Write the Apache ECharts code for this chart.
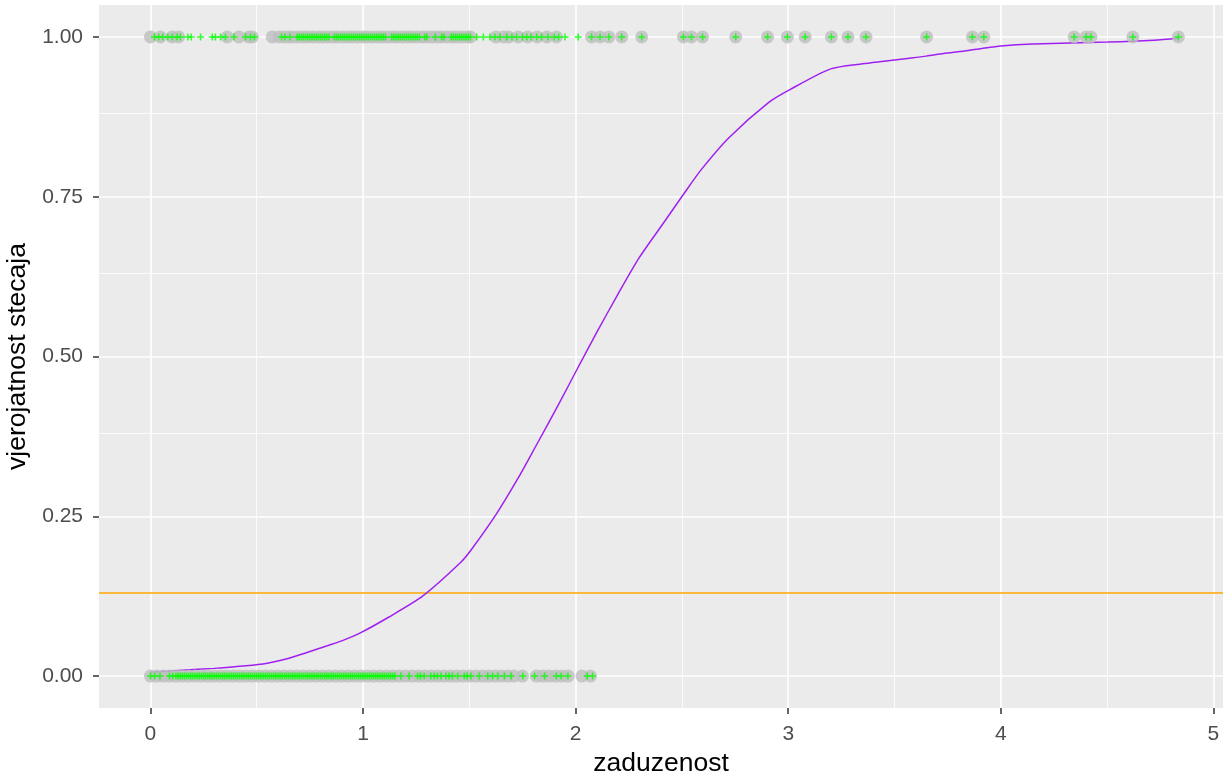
<!DOCTYPE html>
<html><head><meta charset="utf-8">
<script src="https://cdn.jsdelivr.net/npm/echarts@6/dist/echarts.min.js"></script>
<style>html,body{margin:0;padding:0;background:#fff}#c{width:1223px;height:773px}</style>
</head><body><div id="c"></div>
<script>
// ---- tick values ----
const xTicks = [0, 1, 2, 3, 4, 5];
const xMinor = [0.5, 1.5, 2.5, 3.5, 4.5];
const yTicks = [0, 0.25, 0.5, 0.75, 1];
const yMinor = [0.125, 0.375, 0.625, 0.875];

// ---- observed points (zaduzenost) at stecaj = 1 ----
const greyTopX = [0, 0.047, 0.102, 0.133, 0.361, 0.416, 0.463, 0.479, 0.573,
  0.605, 0.63, 0.652, 0.67, 0.695, 0.72, 0.74, 0.765, 0.79, 0.81, 0.835, 0.86, 0.88, 0.905, 0.93, 0.95, 0.975,
  1.0, 1.02, 1.045, 1.07, 1.09, 1.115, 1.14, 1.16, 1.185, 1.21, 1.23, 1.255, 1.28, 1.30, 1.325, 1.35, 1.37,
  1.395, 1.42, 1.44, 1.465, 1.49, 1.505,
  1.625, 1.66, 1.685, 1.73, 1.775, 1.82, 1.865, 1.91, 2.075, 2.115, 2.156, 2.217, 2.311, 2.507, 2.545, 2.597,
  2.753, 2.903, 2.996, 3.080, 3.203, 3.281, 3.366, 3.651, 3.866, 3.920, 4.345, 4.401, 4.424, 4.621, 4.835];

const greenTopX = [0.019, 0.039, 0.058, 0.082, 0.102, 0.126, 0.141, 0.176, 0.192, 0.236, 0.291, 0.306, 0.330,
  0.353, 0.393, 0.448, 0.471, 0.490, 0.617, 0.633, 0.656,
  0.69, 0.70, 0.71, 0.72, 0.73, 0.74, 0.75, 0.76, 0.77, 0.78, 0.79, 0.80, 0.81, 0.82, 0.83, 0.84,
  0.865, 0.875, 0.885, 0.895, 0.905, 0.915, 0.925, 0.935, 0.945, 0.955, 0.965, 0.975, 0.985, 0.995, 1.005,
  1.015, 1.025, 1.035, 1.045, 1.055, 1.065, 1.075, 1.085, 1.095, 1.105,
  1.135, 1.145, 1.155, 1.165, 1.175, 1.185, 1.195, 1.205, 1.215, 1.225, 1.235, 1.245, 1.255, 1.265,
  1.29, 1.30, 1.34, 1.37, 1.38, 1.415, 1.425, 1.435, 1.445, 1.455, 1.465, 1.475, 1.485, 1.495, 1.505,
  1.535, 1.566, 1.597, 1.62, 1.645, 1.676, 1.70, 1.723, 1.75, 1.77, 1.79, 1.817, 1.84, 1.87, 1.90, 1.92, 1.95,
  2.012, 2.075, 2.115, 2.156, 2.217, 2.311, 2.507, 2.545, 2.597, 2.753, 2.903, 2.996, 3.080, 3.203, 3.281,
  3.366, 3.651, 3.866, 3.920, 4.345, 4.401, 4.424, 4.621, 4.835];

// ---- observed points (zaduzenost) at stecaj = 0 ----
const greyBottomX = [0.00, 0.03, 0.06, 0.09, 0.12, 0.15, 0.18, 0.21, 0.24, 0.27, 0.30, 0.33, 0.36, 0.39, 0.42,
  0.45, 0.48, 0.51, 0.54, 0.57, 0.60, 0.63, 0.66, 0.69, 0.72, 0.75, 0.78, 0.81, 0.84, 0.87, 0.90, 0.93, 0.96,
  0.99, 1.02, 1.05, 1.08, 1.11, 1.14, 1.17, 1.20, 1.23, 1.26, 1.29, 1.32, 1.35, 1.38, 1.41, 1.44, 1.47, 1.50,
  1.53, 1.56, 1.59, 1.62, 1.65, 1.68, 1.71, 1.75, 1.815, 1.845, 1.875, 1.905, 1.935, 1.965, 2.03, 2.07];

const greenBottomX = [0, 0.02, 0.045, 0.09, 0.105,
  0.12, 0.13, 0.14, 0.15, 0.16, 0.17, 0.18, 0.19, 0.20, 0.21, 0.22, 0.23, 0.24, 0.25, 0.26, 0.27, 0.28, 0.29,
  0.30, 0.31, 0.32, 0.33, 0.34, 0.35, 0.36, 0.37, 0.38, 0.39, 0.40, 0.41, 0.42, 0.43, 0.44, 0.45, 0.46, 0.47,
  0.48, 0.49, 0.50, 0.51, 0.52, 0.53, 0.54, 0.55, 0.56, 0.57, 0.58, 0.59, 0.60, 0.61, 0.62, 0.63, 0.64, 0.65,
  0.66, 0.67, 0.68, 0.69, 0.70, 0.71, 0.72, 0.73, 0.74, 0.75, 0.76, 0.77, 0.78, 0.79, 0.80, 0.81, 0.82, 0.83,
  0.84, 0.85, 0.86, 0.87, 0.88, 0.89, 0.90, 0.91, 0.92, 0.93, 0.94, 0.95, 0.96, 0.97, 0.98, 0.99, 1.00, 1.01,
  1.02, 1.03, 1.04, 1.05, 1.06, 1.07, 1.08, 1.09, 1.10, 1.11, 1.12, 1.13, 1.14, 1.15,
  1.178, 1.217, 1.257, 1.27, 1.288, 1.319, 1.335, 1.35, 1.367, 1.39, 1.405, 1.42, 1.445, 1.476, 1.49, 1.508,
  1.547, 1.587, 1.610, 1.634, 1.665, 1.697, 1.752, 1.807, 1.854, 1.909, 1.932, 1.964, 2.055, 2.08];

// ---- fitted probability curve ----
const curveX = [0, 0.15, 0.3, 0.45, 0.55, 0.62, 0.7, 0.8, 0.9, 0.99, 1.12, 1.28, 1.46, 1.51, 1.63, 1.73, 1.81,
  1.92, 2.01, 2.10, 2.20, 2.30, 2.42, 2.51, 2.59, 2.72, 2.91, 3.01, 3.20, 3.35, 3.45, 3.55, 3.65, 3.73, 3.83,
  3.91, 4.0, 4.15, 4.5, 4.72, 4.835];
const curveP = [0.006, 0.009, 0.012, 0.016, 0.02, 0.025, 0.033, 0.044, 0.055, 0.068, 0.092, 0.125, 0.178, 0.198,
  0.255, 0.31, 0.358, 0.425, 0.482, 0.538, 0.598, 0.655, 0.712, 0.755, 0.792, 0.842, 0.898, 0.918, 0.950,
  0.958, 0.962, 0.966, 0.970, 0.974, 0.978, 0.982, 0.986, 0.989, 0.992, 0.995, 0.998];

const threshold = 0.125;

const chart = echarts.init(document.getElementById('c'), null, { renderer: 'canvas' });
const pts = (xs, y) => xs.map(x => [x, y]);
const plus = 'path://M0,3.9H3.9V0H6.1V3.9H10V6.1H6.1V10H3.9V6.1H0Z';
const FONT = 'Liberation Sans';

const gridLines = [].concat(
  xTicks.map(v => ({ xAxis: v, lineStyle: { width: 1.6 } })),
  xMinor.map(v => ({ xAxis: v, lineStyle: { width: 0.8 } })),
  yTicks.map(v => ({ yAxis: v, lineStyle: { width: 1.6 } })),
  yMinor.map(v => ({ yAxis: v, lineStyle: { width: 0.8 } }))
);

chart.setOption({
  animation: false,
  grid: { left: 99, right: 0, top: 5, bottom: 65, show: true, backgroundColor: '#EBEBEB', borderWidth: 0,
    containLabel: false, outerBoundsMode: 'none' },
  xAxis: {
    type: 'value', min: -0.2417, max: 5.045,
    name: 'zaduzenost', nameLocation: 'middle', nameGap: 39,
    nameTextStyle: { color: '#000', fontSize: 26.5, fontFamily: FONT },
    axisLine: { show: false, onZero: false },
    axisTick: { show: true, length: 6, customValues: xTicks, lineStyle: { color: '#333333', width: 1.5 } },
    axisLabel: { customValues: xTicks, margin: 16, color: '#4D4D4D', fontSize: 21, fontFamily: FONT,
      formatter: v => String(v) },
    splitLine: { show: false }
  },
  yAxis: {
    type: 'value', min: -0.05, max: 1.05,
    name: 'vjerojatnost stecaja', nameLocation: 'middle', nameGap: 63, nameRotate: 90,
    nameTextStyle: { color: '#000', fontSize: 26.5, fontFamily: FONT },
    axisLine: { show: false, onZero: false },
    axisTick: { show: true, length: 6, customValues: yTicks, lineStyle: { color: '#333333', width: 1.5 } },
    axisLabel: { customValues: yTicks, margin: 16, color: '#4D4D4D', fontSize: 21, fontFamily: FONT,
      formatter: v => v.toFixed(2) },
    splitLine: { show: false }
  },
  series: [
    {
      type: 'line', data: [], z: 1, silent: true,
      markLine: { z: 1, silent: true, symbol: ['none', 'none'], label: { show: false },
        lineStyle: { color: '#FFFFFF', type: 'solid' }, emphasis: { disabled: true }, data: gridLines }
    },
    {
      type: 'line', z: 6, silent: true, showSymbol: false, smooth: 0.25,
      data: curveX.map((x, i) => [x, curveP[i]]),
      lineStyle: { color: '#A020F0', width: 1.5 }
    },
    {
      type: 'line', data: [], z: 6, silent: true,
      markLine: { z: 6, silent: true, symbol: ['none', 'none'], label: { show: false },
        lineStyle: { color: '#FFA500', width: 1.5, type: 'solid' }, emphasis: { disabled: true },
        data: [{ yAxis: threshold }] }
    },
    {
      type: 'scatter', z: 7, silent: true, symbol: 'circle', symbolSize: 13,
      itemStyle: { color: '#BEBEBE' },
      data: pts(greyTopX, 1).concat(pts(greyBottomX, 0))
    },
    {
      type: 'scatter', z: 8, silent: true, symbol: plus, symbolSize: 7,
      itemStyle: { color: '#00FF00' },
      data: pts(greenTopX, 1).concat(pts(greenBottomX, 0))
    }
  ]
});
</script>
</body></html>
